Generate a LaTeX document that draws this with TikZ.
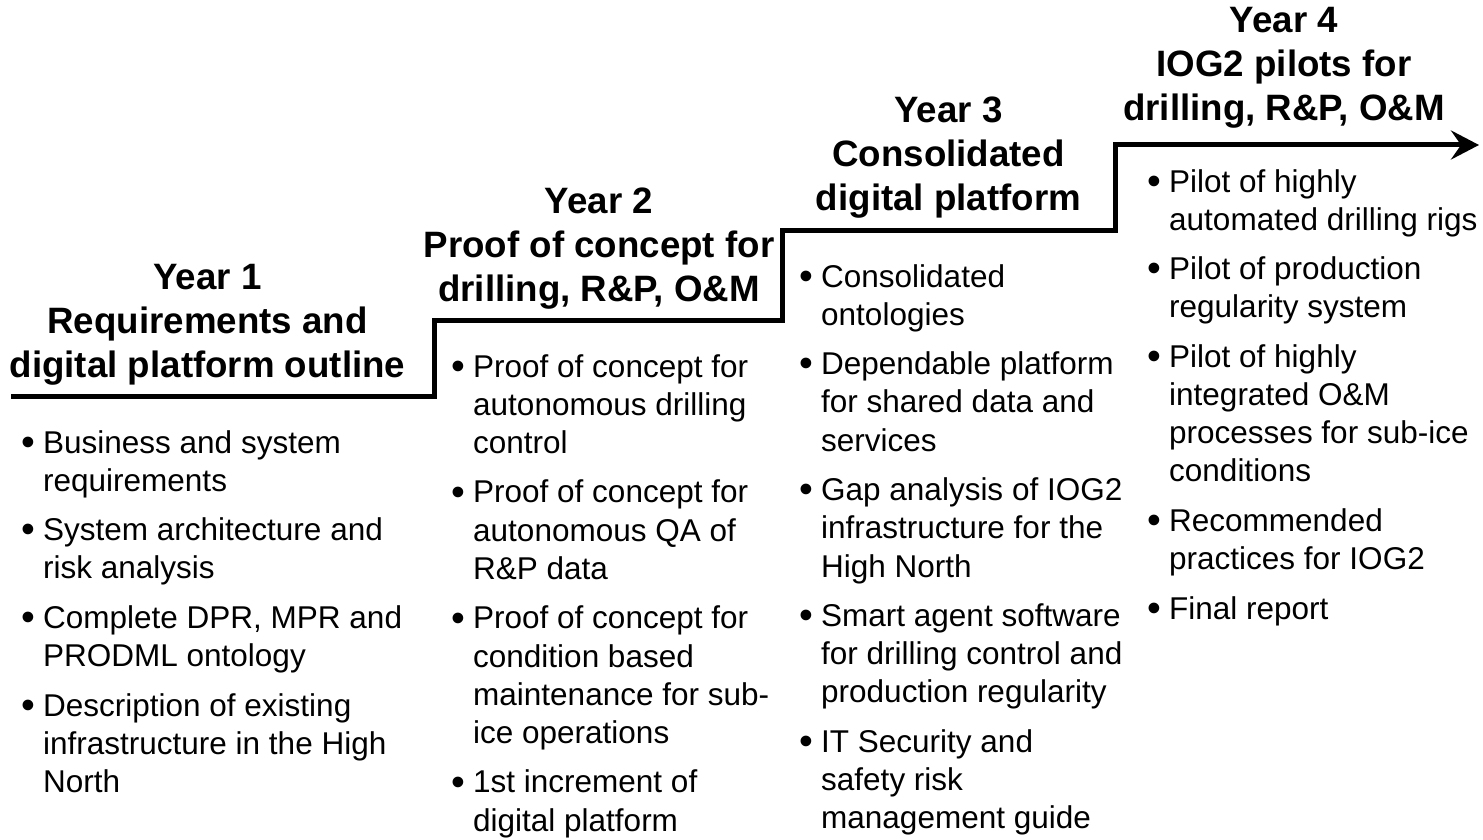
\documentclass[tikz,border=0pt]{standalone}
\usepackage{fontspec}
\setmainfont{Liberation Sans}
\usetikzlibrary{arrows.meta}
\newcommand{\bu}{\makebox[22pt][l]{\raisebox{-2.2pt}{\scalebox{1.25}{•}}}}
\newcommand{\bx}{\hspace*{22pt}}
\tikzset{
  yeartitle/.style={anchor=base, inner sep=0pt, font=\fontsize{36.7}{44}\selectfont\bfseries},
  itemlist/.style={anchor=base west, inner sep=0pt, font=\fontsize{31.5}{38.2}\selectfont},
  stair/.style={line width=5pt, line join=miter, -{Stealth[length=28pt,width=29pt,inset=10pt]}}
}
\begin{document}
\begin{tikzpicture}[x=1pt,y=-1pt]
\useasboundingbox (0,0) rectangle (1483,840);

% staircase
\coordinate (s0) at (11,396);
\coordinate (s1) at (434,396);
\coordinate (s2) at (434,320.5);
\coordinate (s3) at (782,320.5);
\coordinate (s4) at (782,230);
\coordinate (s5) at (1115.5,230);
\coordinate (s6) at (1115.5,145);
\coordinate (s7) at (1479,145);
\draw[stair] (s0) -- (s1) -- (s2) -- (s3) -- (s4) -- (s5) -- (s6) -- (s7);

% titles
\node[yeartitle] (t1) at (207.5,289) {\begin{tabular}[t]{@{}c@{}}Year 1\\Requirements and\\digital platform outline\end{tabular}};
\node[yeartitle] (t2) at (599,213) {\begin{tabular}[t]{@{}c@{}}Year 2\\Proof of concept for\\drilling, R\&P, O\&M\end{tabular}};
\node[yeartitle] (t3) at (948.5,123) {\begin{tabular}[t]{@{}c@{}}Year 3\\Consolidated\\digital platform\end{tabular}};
\node[yeartitle] (t4) at (1284,33) {\begin{tabular}[t]{@{}c@{}}Year 4\\IOG2 pilots for\\drilling, R\&P, O\&M\end{tabular}};

% lists
\node[itemlist] (l1) at (21,453) {\begin{tabular}[t]{@{}l@{}}
\bu Business and system\\ \bx requirements\\[11.3pt]
\bu System architecture and\\ \bx risk analysis\\[11.3pt]
\bu Complete DPR, MPR and\\ \bx PRODML ontology\\[11.3pt]
\bu Description of existing\\ \bx infrastructure in the High\\ \bx North
\end{tabular}};

\node[itemlist] (l2) at (451,377) {\begin{tabular}[t]{@{}l@{}}
\bu Proof of concept for\\ \bx autonomous drilling\\ \bx control\\[11.3pt]
\bu Proof of concept for\\ \bx autonomous QA of\\ \bx R\&P data\\[11.3pt]
\bu Proof of concept for\\ \bx condition based\\ \bx maintenance for sub-\\ \bx ice operations\\[11.3pt]
\bu 1st increment of\\ \bx digital platform
\end{tabular}};

\node[itemlist] (l3) at (799,287) {\begin{tabular}[t]{@{}l@{}}
\bu Consolidated\\ \bx ontologies\\[11.3pt]
\bu Dependable platform\\ \bx for shared data and\\ \bx services\\[11.3pt]
\bu Gap analysis of IOG2\\ \bx infrastructure for the\\ \bx High North\\[11.3pt]
\bu Smart agent software\\ \bx for drilling control and\\ \bx production regularity\\[11.3pt]
\bu IT Security and\\ \bx safety risk\\ \bx management guide
\end{tabular}};

\node[itemlist] (l4) at (1147,192) {\begin{tabular}[t]{@{}l@{}}
\bu Pilot of highly\\ \bx automated drilling rigs\\[11.3pt]
\bu Pilot of production\\ \bx regularity system\\[11.3pt]
\bu Pilot of highly\\ \bx integrated O\&M\\ \bx processes for sub-ice\\ \bx conditions\\[11.3pt]
\bu Recommended\\ \bx practices for IOG2\\[11.3pt]
\bu Final report
\end{tabular}};
\end{tikzpicture}
\end{document}
